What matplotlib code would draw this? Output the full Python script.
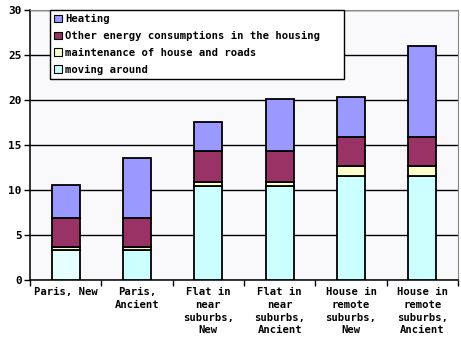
import numpy as np
import matplotlib.pyplot as plt
from matplotlib.patches import Patch

# Energy use per housing type
categories = ['Paris, New', 'Paris,\nAncient', 'Flat in\nnear\nsuburbs,\nNew',
              'Flat in\nnear\nsuburbs,\nAncient', 'House in\nremote\nsuburbs,\nNew',
              'House in\nremote\nsuburbs,\nAncient']
moving = [3.3, 3.3, 10.4, 10.4, 11.6, 11.6]
maintenance = [0.4, 0.4, 0.5, 0.5, 1.1, 1.1]
other_energy = [3.2, 3.2, 3.4, 3.4, 3.2, 3.2]
heating = [3.7, 6.7, 3.3, 5.8, 4.4, 10.1]

labels = ['Heating', 'Other energy consumptions in the housing',
          'maintenance of house and roads', 'moving around']
colors = ['#9999FF', '#993366', '#FFFFCC', '#CCFFFF']
moving_colors = ['#E6FFFF'] + [colors[3]] * 5

font = 'DejaVu Sans Mono'
plt.rcParams['font.family'] = font
plt.rcParams['font.weight'] = 'bold'

fig = plt.figure(figsize=(4.61, 3.43), dpi=100)
ax = fig.add_axes([30 / 461, 63 / 343, 428 / 461, 270 / 343])
ax.set_facecolor('#F9F9FC')

x = np.arange(len(categories))
w = 0.39
edge = dict(edgecolor='black', linewidth=1.3)

bottom = np.zeros(len(categories))
for vals, col in [(moving, moving_colors), (maintenance, colors[2]),
                  (other_energy, colors[1]), (heating, colors[0])]:
    ax.bar(x, vals, w, bottom=bottom, color=col, zorder=3, **edge)
    bottom += np.array(vals)

ax.set_ylim(0, 30)
ax.set_xlim(-0.5, len(categories) - 0.5)
ax.set_yticks(range(0, 31, 5))
ax.yaxis.grid(True, color='black', linewidth=1.0, zorder=0)
ax.tick_params(axis='y', length=4, width=1, labelsize=8, pad=2)

# category separators as major ticks, labels on minor ticks
ax.set_xticks(np.arange(-0.5, len(categories), 1.0))
ax.set_xticklabels([])
ax.set_xticks(x, minor=True)
ax.set_xticklabels(categories, minor=True, fontsize=7.6, linespacing=1.35,
                   va='top', ha='center')
ax.tick_params(axis='x', which='major', length=4, width=1, direction='out')
ax.tick_params(axis='x', which='minor', length=0, pad=5)

for side in ['top', 'right']:
    ax.spines[side].set_color('#888888')
for side in ['left', 'bottom']:
    ax.spines[side].set_color('black')
    ax.spines[side].set_linewidth(1.1)

handles = [Patch(facecolor=c, edgecolor='black', linewidth=0.8) for c in colors]
leg = ax.legend(handles, labels, loc='upper left',
                bbox_to_anchor=(20 / 428, 0, 294 / 428, 1.0), mode='expand',
                fontsize=7.6, handlelength=0.7, handleheight=0.7,
                handletextpad=0.35, labelspacing=0.64, borderpad=0.4,
                borderaxespad=0, fancybox=False, framealpha=1)
leg.get_frame().set_edgecolor('black')
leg.get_frame().set_linewidth(1.0)
leg.set_zorder(5)

plt.savefig('out.png', dpi=100)
